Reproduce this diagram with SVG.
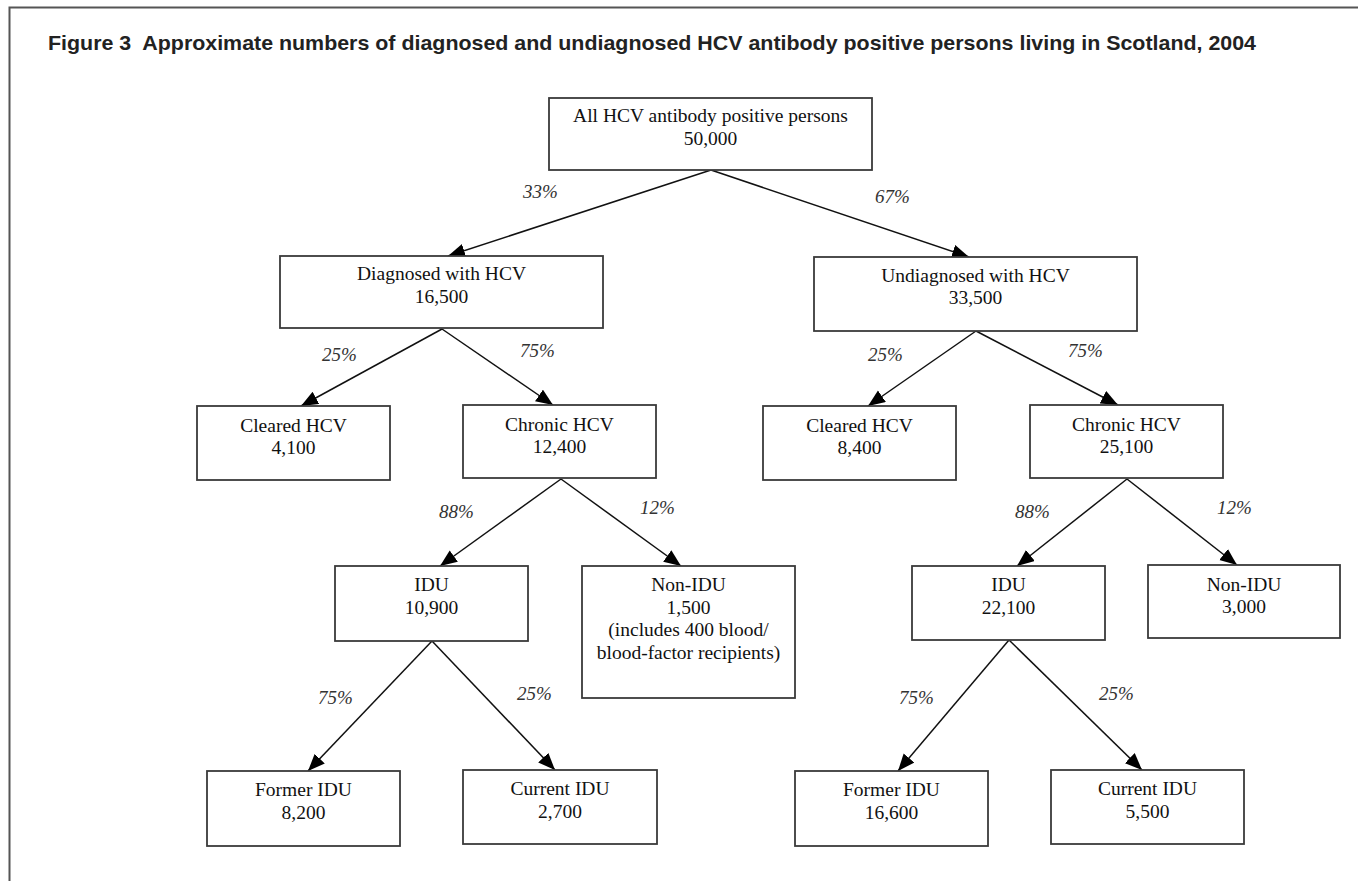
<svg xmlns="http://www.w3.org/2000/svg" width="1358" height="881" viewBox="0 0 1358 881">
<style>
.box{fill:#fff;stroke:#3a3a3a;stroke-width:1.8}
.t{font-family:"Liberation Serif","Times New Roman",serif;font-size:19.5px;fill:#111;text-anchor:middle}
.p{font-family:"Liberation Serif","Times New Roman",serif;font-size:19px;font-style:italic;fill:#333}
.c{stroke:#111;stroke-width:1.5;fill:none;marker-end:url(#ah)}
.frame{stroke:#555;stroke-width:2;fill:none}
.title{font-family:"Liberation Sans",Arial,sans-serif;font-weight:bold;font-size:21px;fill:#222}
</style>
<defs>
<marker id="ah" markerUnits="userSpaceOnUse" markerWidth="18" markerHeight="15" refX="17" refY="7" orient="auto">
<path d="M0,0 L17,7 L0,14 z" fill="#000"/>
</marker>
</defs>
<rect width="1358" height="881" fill="#fff"/>
<path class="frame" d="M1358,7.5 H9.5 V881"/>
<text class="title" x="48" y="50" textLength="1208" lengthAdjust="spacingAndGlyphs" xml:space="preserve">Figure 3  Approximate numbers of diagnosed and undiagnosed HCV antibody positive persons living in Scotland, 2004</text>

<g id="connectors">
<line class="c" x1="711" y1="170" x2="448" y2="256"/>
<line class="c" x1="711" y1="170" x2="969" y2="257"/>
<line class="c" x1="442" y1="329" x2="301" y2="406"/>
<line class="c" x1="442" y1="329" x2="553" y2="405"/>
<line class="c" x1="976" y1="331" x2="868" y2="406"/>
<line class="c" x1="976" y1="331" x2="1118" y2="405"/>
<line class="c" x1="561" y1="479" x2="440" y2="566"/>
<line class="c" x1="561" y1="479" x2="681" y2="566"/>
<line class="c" x1="1127" y1="479" x2="1017" y2="566"/>
<line class="c" x1="1127" y1="479" x2="1237" y2="565"/>
<line class="c" x1="432" y1="641" x2="308" y2="771"/>
<line class="c" x1="432" y1="641" x2="555" y2="770"/>
<line class="c" x1="1009" y1="640" x2="898" y2="771"/>
<line class="c" x1="1009" y1="640" x2="1142" y2="770"/>
<text class="p" x="523" y="198">33%</text>
<text class="p" x="875" y="203">67%</text>
<text class="p" x="322" y="361">25%</text>
<text class="p" x="520" y="357">75%</text>
<text class="p" x="868" y="361">25%</text>
<text class="p" x="1068" y="357">75%</text>
<text class="p" x="439" y="518">88%</text>
<text class="p" x="640" y="514">12%</text>
<text class="p" x="1015" y="518">88%</text>
<text class="p" x="1217" y="514">12%</text>
<text class="p" x="318" y="704">75%</text>
<text class="p" x="517" y="700">25%</text>
<text class="p" x="899" y="704">75%</text>
<text class="p" x="1099" y="700">25%</text>
</g>

<g id="n-all"><rect class="box" x="549" y="98" width="323" height="72"/>
<text class="t" x="710.5" y="122">All HCV antibody positive persons</text><text class="t" x="710.5" y="145">50,000</text></g>
<g id="n-diag"><rect class="box" x="280" y="256" width="323" height="72"/>
<text class="t" x="441.5" y="280">Diagnosed with HCV</text><text class="t" x="441.5" y="303">16,500</text></g>
<g id="n-undiag"><rect class="box" x="814" y="257" width="323" height="74"/>
<text class="t" x="975.5" y="282">Undiagnosed with HCV</text><text class="t" x="975.5" y="304">33,500</text></g>
<g id="n-cleared-l"><rect class="box" x="197" y="406" width="193" height="74"/>
<text class="t" x="293.5" y="431.5">Cleared HCV</text><text class="t" x="293.5" y="454">4,100</text></g>
<g id="n-chronic-l"><rect class="box" x="463" y="405" width="193" height="73"/>
<text class="t" x="559.5" y="430.5">Chronic HCV</text><text class="t" x="559.5" y="453">12,400</text></g>
<g id="n-cleared-r"><rect class="box" x="763" y="406" width="193" height="74"/>
<text class="t" x="859.5" y="431.5">Cleared HCV</text><text class="t" x="859.5" y="454">8,400</text></g>
<g id="n-chronic-r"><rect class="box" x="1030" y="405" width="193" height="73"/>
<text class="t" x="1126.5" y="430.5">Chronic HCV</text><text class="t" x="1126.5" y="453">25,100</text></g>
<g id="n-idu-l"><rect class="box" x="335" y="566" width="193" height="75"/>
<text class="t" x="431.5" y="591">IDU</text><text class="t" x="431.5" y="614">10,900</text></g>
<g id="n-nonidu-l"><rect class="box" x="582" y="566" width="213" height="132"/>
<text class="t" x="688.5" y="591">Non-IDU</text><text class="t" x="688.5" y="613.5">1,500</text>
<text class="t" x="688.5" y="636">(includes 400 blood/</text><text class="t" x="688.5" y="658.5">blood-factor recipients)</text></g>
<g id="n-idu-r"><rect class="box" x="912" y="566" width="193" height="74"/>
<text class="t" x="1008.5" y="591">IDU</text><text class="t" x="1008.5" y="614">22,100</text></g>
<g id="n-nonidu-r"><rect class="box" x="1148" y="565" width="192" height="73"/>
<text class="t" x="1244" y="590.5">Non-IDU</text><text class="t" x="1244" y="613">3,000</text></g>
<g id="n-former-l"><rect class="box" x="207" y="771" width="193" height="75"/>
<text class="t" x="303.5" y="796">Former IDU</text><text class="t" x="303.5" y="819">8,200</text></g>
<g id="n-current-l"><rect class="box" x="463" y="770" width="194" height="74"/>
<text class="t" x="560" y="795">Current IDU</text><text class="t" x="560" y="818">2,700</text></g>
<g id="n-former-r"><rect class="box" x="795" y="771" width="193" height="75"/>
<text class="t" x="891.5" y="796">Former IDU</text><text class="t" x="891.5" y="819">16,600</text></g>
<g id="n-current-r"><rect class="box" x="1051" y="770" width="193" height="74"/>
<text class="t" x="1147.5" y="795">Current IDU</text><text class="t" x="1147.5" y="818">5,500</text></g>
</svg>
